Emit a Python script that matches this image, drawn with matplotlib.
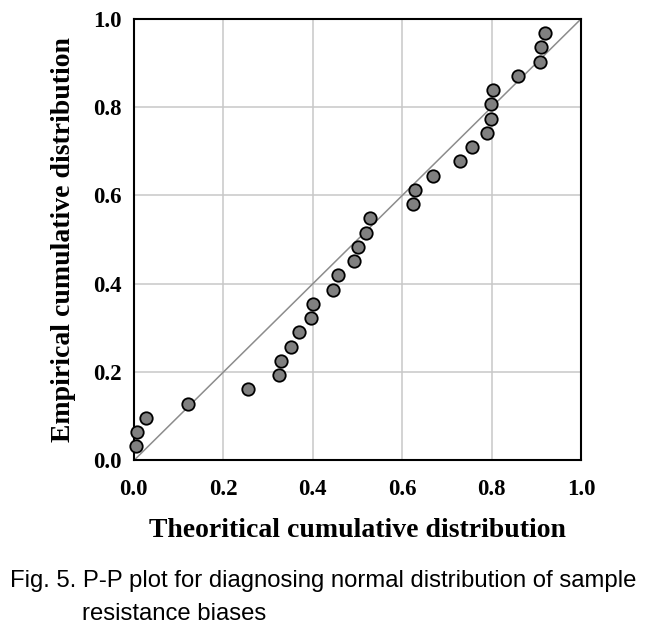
import matplotlib.pyplot as plt

# P-P plot points (theoretical vs empirical cumulative probability)
theor = [0.004, 0.006, 0.027, 0.121, 0.255, 0.325, 0.328, 0.351, 0.369, 0.395,
         0.401, 0.445, 0.457, 0.492, 0.501, 0.518, 0.528, 0.624, 0.629, 0.669,
         0.728, 0.757, 0.790, 0.798, 0.799, 0.802, 0.858, 0.908, 0.911, 0.919]
empir = [0.032, 0.065, 0.097, 0.129, 0.161, 0.194, 0.226, 0.258, 0.290, 0.323,
         0.355, 0.387, 0.419, 0.452, 0.484, 0.516, 0.548, 0.581, 0.613, 0.645,
         0.677, 0.710, 0.742, 0.774, 0.806, 0.839, 0.871, 0.903, 0.935, 0.968]
ticks = [0.0, 0.2, 0.4, 0.6, 0.8, 1.0]
tick_labels = ['0.0', '0.2', '0.4', '0.6', '0.8', '1.0']

fig = plt.figure(figsize=(6.53, 6.26), dpi=100)
ax = fig.add_axes([0.205, 0.2644, 0.685, 0.7056])

ax.plot([0, 1], [0, 1], color='#8c8c8c', lw=1.1, zorder=2)
ax.scatter(theor, empir, s=80, facecolor='#808080', edgecolor='black',
           linewidth=1.3, zorder=3, clip_on=False)

ax.set_xlim(0, 1)
ax.set_ylim(0, 1)
ax.set_xticks(ticks)
ax.set_yticks(ticks)
ax.set_xticklabels(tick_labels, family='Liberation Serif', weight='bold', fontsize=16.5)
ax.set_yticklabels(tick_labels, family='Liberation Serif', weight='bold', fontsize=16.5)
ax.tick_params(length=0, pad=9)
ax.tick_params(axis='x', pad=13)
ax.grid(True, color='#c8c8c8', lw=1.1)
ax.set_axisbelow(True)
for s in ax.spines.values():
    s.set_linewidth(1.5)

ax.set_xlabel('Theoritical cumulative distribution', family='Liberation Serif',
              weight='bold', fontsize=20, labelpad=13)
ax.set_ylabel('Empirical cumulative distribution', family='Liberation Serif',
              weight='bold', fontsize=20, labelpad=12)

fig.text(0.015, 0.062, 'Fig. 5. P-P plot for diagnosing normal distribution of sample',
         family='Liberation Sans', fontsize=17.2, va='baseline')
fig.text(0.125, 0.01, 'resistance biases', family='Liberation Sans',
         fontsize=17.2, va='baseline')

plt.savefig('out.png')
